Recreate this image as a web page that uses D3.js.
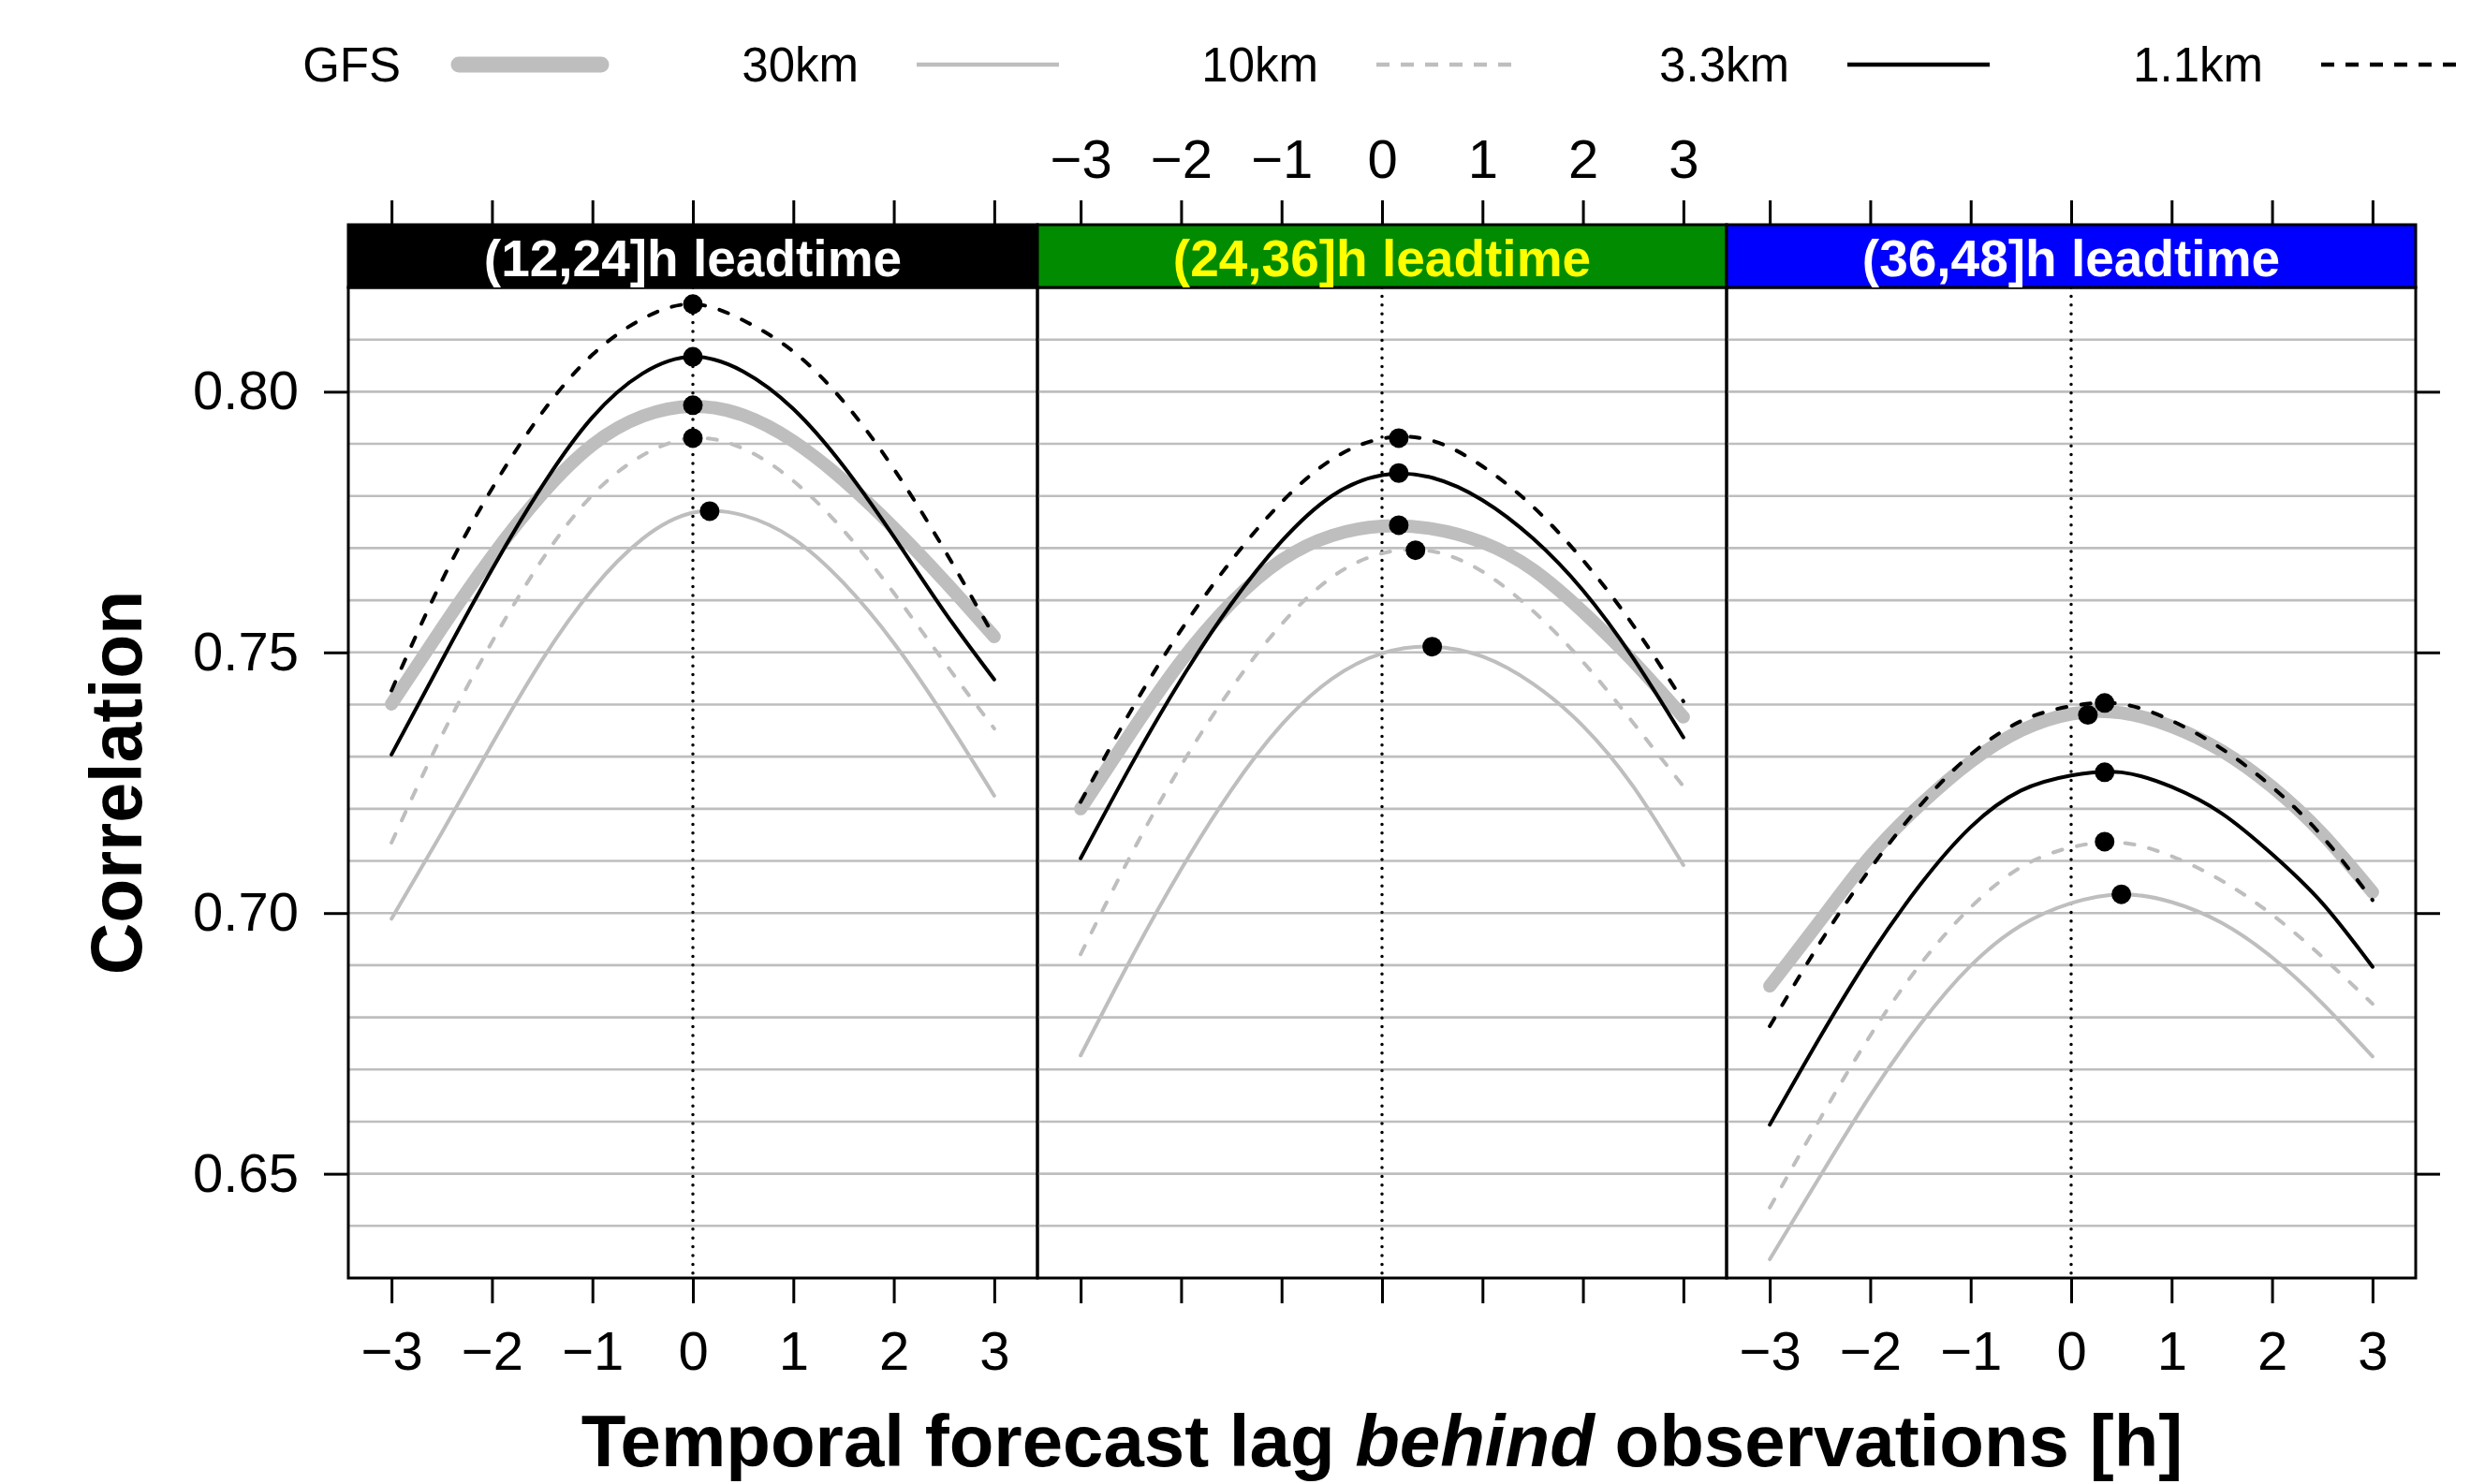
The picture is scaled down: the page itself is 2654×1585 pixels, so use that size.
<!DOCTYPE html>
<html>
<head>
<meta charset="utf-8">
<script src="https://cdn.jsdelivr.net/npm/d3@7"></script>
<style>
  html, body { margin: 0; padding: 0; background: #fff; }
  svg text { font-family: "Liberation Sans", Arial, Helvetica, sans-serif; }
</style>
</head>
<body>
<svg id="chart" width="2654" height="1585"></svg>
<script>
var lags = [-3, -2.5, -2, -1.5, -1, -0.5, 0, 0.5, 1, 1.5, 2, 2.5, 3];
var leadtimes = ["(12,24]h leadtime", "(24,36]h leadtime", "(36,48]h leadtime"];
var models = ["GFS", "30km", "10km", "3.3km", "1.1km"];
var xTicks = [-3, -2, -1, 0, 1, 2, 3];
var yTicks = [0.65, 0.70, 0.75, 0.80];

// correlation per lag, one row per leadtime panel
var gfsCor = [
  [0.7401, 0.7546, 0.7684, 0.7804, 0.7898, 0.7953, 0.7972, 0.7955, 0.7905, 0.7830, 0.7739, 0.7638, 0.7530],
  [0.7200, 0.7346, 0.7483, 0.7595, 0.7677, 0.7724, 0.7742, 0.7737, 0.7711, 0.7659, 0.7578, 0.7483, 0.7376],
  [0.6860, 0.6985, 0.7109, 0.7208, 0.7290, 0.7350, 0.7382, 0.7384, 0.7358, 0.7311, 0.7242, 0.7152, 0.7040]
];
var km30Cor = [
  [0.6989, 0.7154, 0.7324, 0.7486, 0.7621, 0.7718, 0.7768, 0.7763, 0.7718, 0.7633, 0.7518, 0.7378, 0.7225],
  [0.6727, 0.6912, 0.7084, 0.7236, 0.7361, 0.7449, 0.7498, 0.7511, 0.7492, 0.7440, 0.7359, 0.7243, 0.7092],
  [0.6336, 0.6495, 0.6650, 0.6787, 0.6899, 0.6976, 0.7019, 0.7036, 0.7021, 0.6981, 0.6915, 0.6827, 0.6725]
];
var km10Cor = [
  [0.7135, 0.7340, 0.7520, 0.7678, 0.7802, 0.7878, 0.7911, 0.7891, 0.7829, 0.7734, 0.7614, 0.7482, 0.7354],
  [0.6921, 0.7111, 0.7283, 0.7431, 0.7554, 0.7644, 0.7690, 0.7694, 0.7655, 0.7580, 0.7482, 0.7365, 0.7243],
  [0.6435, 0.6605, 0.6765, 0.6902, 0.7011, 0.7088, 0.7126, 0.7135, 0.7109, 0.7062, 0.6997, 0.6916, 0.6826]
];
var km3Cor = [
  [0.7304, 0.7484, 0.7659, 0.7819, 0.7951, 0.8035, 0.8067, 0.8039, 0.7967, 0.7857, 0.7722, 0.7579, 0.7448],
  [0.7105, 0.7283, 0.7448, 0.7593, 0.7713, 0.7800, 0.7840, 0.7835, 0.7792, 0.7719, 0.7619, 0.7489, 0.7337],
  [0.6594, 0.6762, 0.6919, 0.7055, 0.7165, 0.7235, 0.7264, 0.7270, 0.7242, 0.7191, 0.7113, 0.7019, 0.6897]
];
var km1Cor = [
  [0.7427, 0.7637, 0.7814, 0.7960, 0.8071, 0.8140, 0.8168, 0.8137, 0.8077, 0.7981, 0.7852, 0.7698, 0.7530],
  [0.7213, 0.7388, 0.7543, 0.7676, 0.7788, 0.7870, 0.7910, 0.7906, 0.7857, 0.7780, 0.7677, 0.7552, 0.7406],
  [0.6783, 0.6943, 0.7085, 0.7207, 0.7304, 0.7368, 0.7397, 0.7401, 0.7369, 0.7315, 0.7242, 0.7147, 0.7025]
];

// maximum of each curve: [lag, correlation] per panel
var gfsPeak = [[0, 0.7974], [0.1667, 0.7744], [0.1667, 0.7380]];
var km30Peak = [[0.1667, 0.7771], [0.5, 0.7511], [0.5, 0.7036]];
var km10Peak = [[0, 0.7911], [0.3333, 0.7696], [0.3333, 0.7137]];
var km3Peak = [[0, 0.8067], [0.1667, 0.7844], [0.3333, 0.7270]];
var km1Peak = [[0, 0.8168], [0.1667, 0.7911], [0.3333, 0.7403]];

(function() {
"use strict";

var panelLeft = 372, panelW = 736;
var panelTop = 307, panelBottom = 1365, stripTop = 240;
var grey = "#bebebe";
var dash = "10,16";

var styles = [
  {color: grey, width: 14, dash: null, keyWidth: 17},
  {color: grey, width: 4, dash: null, keyWidth: 4.5},
  {color: grey, width: 4, dash: dash, keyWidth: 4.5},
  {color: "#000", width: 4, dash: null, keyWidth: 4.5},
  {color: "#000", width: 4, dash: dash, keyWidth: 4.5}
];
var stripFill = ["#000000", "#008b00", "#0000ff"];
var stripInk = ["#ffffff", "#ffff00", "#ffffff"];
var keyRight = [428, 917, 1408, 1911, 2417];

var corSets = [gfsCor, km30Cor, km10Cor, km3Cor, km1Cor];
var peakSets = [gfsPeak, km30Peak, km10Peak, km3Peak, km1Peak];

var svg = d3.select("#chart");

var y = d3.scaleLinear().domain([0.63, 0.82]).range([panelBottom, panelTop]);
var minus = function(d) { return d < 0 ? "\u2212" + Math.abs(d) : String(d); };

leadtimes.forEach(function(lt, p) {
  var x0 = panelLeft + p * panelW;
  var x = d3.scaleLinear().domain([-3.43, 3.43]).range([x0, x0 + panelW]);
  var g = svg.append("g");

  // horizontal reference lines every 0.01
  g.selectAll("line.grid")
    .data(d3.range(64, 82).map(function(d) { return d / 100; }))
    .enter().append("line")
    .attr("x1", x0).attr("x2", x0 + panelW)
    .attr("y1", y).attr("y2", y)
    .attr("stroke", grey).attr("stroke-width", 2.6);

  g.append("line")
    .attr("x1", x(0)).attr("x2", x(0))
    .attr("y1", panelTop).attr("y2", panelBottom)
    .attr("stroke", "#000").attr("stroke-width", 3.5)
    .attr("stroke-linecap", "round")
    .attr("stroke-dasharray", "0,9.4");

  var line = d3.line()
    .x(function(d, i) { return x(lags[i]); })
    .y(function(d) { return y(d); })
    .curve(d3.curveNatural);

  corSets.forEach(function(set, s) {
    var st = styles[s];
    g.append("path")
      .attr("d", line(set[p]))
      .attr("fill", "none")
      .attr("stroke", st.color)
      .attr("stroke-width", st.width)
      .attr("stroke-linecap", "round")
      .attr("stroke-dasharray", st.dash);
  });

  g.selectAll("circle.peak")
    .data(peakSets.map(function(set) { return set[p]; }))
    .enter().append("circle")
    .attr("cx", function(d) { return x(d[0]); })
    .attr("cy", function(d) { return y(d[1]); })
    .attr("r", 10.5)
    .attr("fill", "#000");

  g.append("rect")
    .attr("x", x0).attr("y", panelTop)
    .attr("width", panelW).attr("height", panelBottom - panelTop)
    .attr("fill", "none").attr("stroke", "#000").attr("stroke-width", 3);

  g.append("rect")
    .attr("x", x0).attr("y", stripTop)
    .attr("width", panelW).attr("height", panelTop - stripTop)
    .attr("fill", stripFill[p]).attr("stroke", "#000").attr("stroke-width", 3);

  g.append("text")
    .attr("x", x0 + panelW / 2).attr("y", 295)
    .attr("text-anchor", "middle")
    .attr("font-size", 55).attr("font-weight", "bold")
    .attr("fill", stripInk[p])
    .text(lt);

  var bottom = d3.axisBottom(x).tickValues(xTicks)
    .tickSize(27).tickPadding(30)
    .tickFormat(p === 1 ? "" : minus);
  styleAxis(g.append("g").attr("transform", "translate(0," + panelBottom + ")").call(bottom));

  var top = d3.axisTop(x).tickValues(xTicks)
    .tickSize(26).tickPadding(24)
    .tickFormat(p === 1 ? minus : "");
  styleAxis(g.append("g").attr("transform", "translate(0," + stripTop + ")").call(top));

  if (p === 0) {
    var left = d3.axisLeft(y).tickValues(yTicks)
      .tickSize(26).tickPadding(27)
      .tickFormat(d3.format(".2f"));
    styleAxis(g.append("g").attr("transform", "translate(" + x0 + ",0)").call(left));
  }
  if (p === 2) {
    var right = d3.axisRight(y).tickValues(yTicks).tickSize(26).tickFormat("");
    styleAxis(g.append("g").attr("transform", "translate(" + (x0 + panelW) + ",0)").call(right));
  }
});

function styleAxis(ax) {
  ax.select(".domain").remove();
  ax.attr("font-family", null).attr("font-size", 58);
  ax.selectAll(".tick line").attr("stroke", "#000").attr("stroke-width", 3);
  ax.selectAll(".tick text").attr("fill", "#000");
}

// key along the top
var key = svg.append("g");
models.forEach(function(m, i) {
  var st = styles[i];
  key.append("text")
    .attr("x", keyRight[i]).attr("y", 87)
    .attr("text-anchor", "end")
    .attr("font-size", 51)
    .text(m);
  key.append("line")
    .attr("x1", keyRight[i] + 62).attr("x2", keyRight[i] + 214)
    .attr("y1", 69).attr("y2", 69)
    .attr("stroke", st.color)
    .attr("stroke-width", st.keyWidth)
    .attr("stroke-linecap", i === 0 ? "round" : "butt")
    .attr("stroke-dasharray", st.dash ? "14,12" : null);
});

var xTitle = svg.append("text")
  .attr("x", 1476).attr("y", 1566)
  .attr("text-anchor", "middle")
  .attr("font-size", 78).attr("font-weight", "bold");
xTitle.append("tspan").text("Temporal forecast lag ");
xTitle.append("tspan").attr("font-style", "italic").text("behind");
xTitle.append("tspan").text(" observations [h]");

svg.append("text")
  .attr("transform", "translate(151,836) rotate(-90)")
  .attr("text-anchor", "middle")
  .attr("font-size", 77).attr("font-weight", "bold")
  .text("Correlation");

})();
</script>
</body>
</html>
